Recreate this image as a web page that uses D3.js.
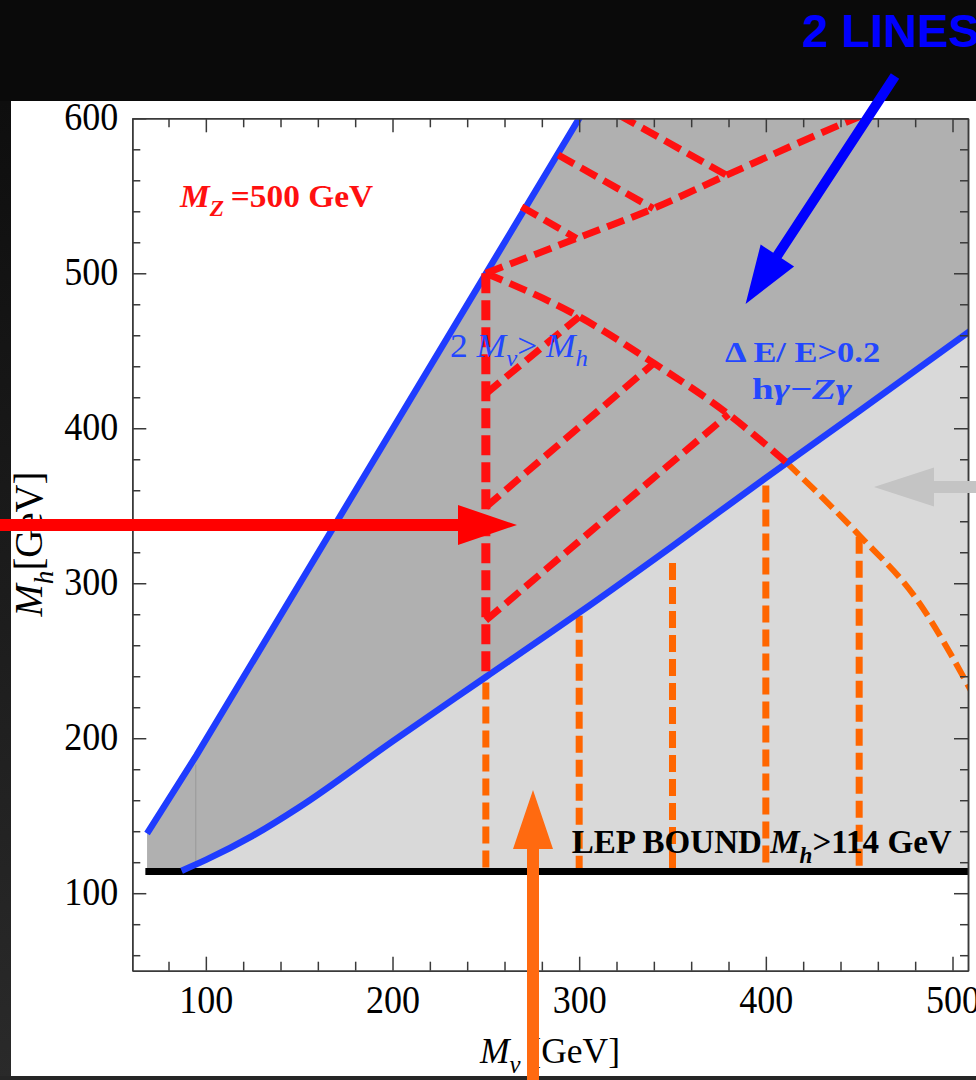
<!DOCTYPE html>
<html lang="en">
<head>
<meta charset="UTF-8">
<title>Mh vs Mnu plane</title>
<script src="https://d3js.org/d3.v7.min.js"></script>
<style>
  body { margin: 0; background: #0a0a0a; }
  svg { display: block; }
  .axis path, .axis line { stroke: #3a3a3a; stroke-width: 1.5px; }
  .axis text { font-family: "Liberation Serif", "Times New Roman", serif; font-size: 40px; fill: #000; }
</style>
</head>
<body>
<div id="chart"></div>
<script>
// ---- data (GeV) ----
const xMajor = [100, 200, 300, 400, 500];
const yMajor = [100, 200, 300, 400, 500, 600];
const lepBound = 114;

// blue boundary 2 M_nu > M_h
const upperBoundary = [[68.5, 138.5], [95, 189], [303, 606]];
// blue boundary  dE/E > 0.2
const lowerBoundary = [[87, 114.5], [100, 121.5], [125, 137], [150, 155.5], [200, 198], [250, 239.5],
                       [300, 281], [350, 324], [400, 368], [450, 411], [512, 465]];

// red dashed contours
const redVertical = [[250, 500], [250, 240]];
const redFallCurve = [[250, 500], [300, 472], [340, 442], [380, 409], [411, 378]];
const orangeFallCurve = [[411, 378], [450, 331], [480, 291], [512, 226]];
const redRiseLine = [[250, 500], [298.6, 522.5], [339.7, 541.8], [379, 563.3], [450, 601], [456, 604]];
const redCrossLines = [
  [[269.2, 542.9], [298.6, 522.5]],
  [[288.8, 576.3], [339.7, 541.8]],
  [[321.5, 602], [379, 563.3]]
];
const redDiagLines = [
  [[250, 422.3], [300, 472]],
  [[250, 349.2], [340, 442]],
  [[250, 276], [380, 409]]
];
// orange dashed verticals: position and top end
const orangeX = [250, 300, 350, 400, 450];
const orangeTop = [236, 279, 313, 363, 330];

const W = 976, H = 1080;
const x = d3.scaleLinear().domain([60.6, 508.3]).range([132.3, 968]);
const y = d3.scaleLinear().domain([50, 600]).range([970.7, 118.3]);

const svg = d3.select("#chart").append("svg").attr("width", W).attr("height", H);

// background / frame of the screenshot
const defs = svg.append("defs");
const grad = defs.append("linearGradient").attr("id", "stripGrad")
  .attr("x1", 0).attr("x2", 0).attr("y1", 0).attr("y2", 1);
grad.append("stop").attr("offset", "0%").attr("stop-color", "#0e0e0e");
grad.append("stop").attr("offset", "100%").attr("stop-color", "#2a2a2a");
defs.append("clipPath").attr("id", "plotClip").append("rect")
  .attr("x", x.range()[0]).attr("y", y.range()[1])
  .attr("width", x.range()[1] - x.range()[0]).attr("height", y.range()[0] - y.range()[1]);

svg.append("rect").attr("width", W).attr("height", H).attr("fill", "#0a0a0a");
svg.append("rect").attr("x", 0).attr("y", 101).attr("width", 11).attr("height", H - 101).attr("fill", "url(#stripGrad)");
svg.append("rect").attr("x", 0).attr("y", 1076).attr("width", W).attr("height", 4).attr("fill", "#262626");
svg.append("rect").attr("x", 11).attr("y", 101).attr("width", W - 11).attr("height", 975).attr("fill", "#fff");

const plot = svg.append("g").attr("clip-path", "url(#plotClip)");
const line = d3.line().x(d => x(d[0])).y(d => y(d[1]));
const smooth = d3.line().x(d => x(d[0])).y(d => y(d[1])).curve(d3.curveMonotoneX);

// dark region between the two blue boundaries
const dark = [[68.5, lepBound], ...upperBoundary, [512, 606], [512, lepBound]];
plot.append("path").attr("d", line(dark) + "Z").attr("fill", "#b0b0b0");
// light region below the lower boundary
plot.append("path")
  .attr("d", d3.area().x(d => x(d[0])).y0(y(lepBound)).y1(d => y(d[1])).curve(d3.curveMonotoneX)(lowerBoundary))
  .attr("fill", "#d9d9d9");
// faint mesh line
plot.append("path").attr("d", line([[94.6, 183], [94.6, 118]]))
  .attr("stroke", "#8c8c8c").attr("stroke-width", 1).attr("opacity", 0.6);

// orange verticals
orangeX.forEach((v, i) => {
  plot.append("path").attr("d", line([[v, orangeTop[i]], [v, lepBound]]))
    .attr("fill", "none").attr("stroke", "#ff6600").attr("stroke-width", 7)
    .attr("stroke-dasharray", "17,7");
});
plot.append("path").attr("d", smooth(orangeFallCurve))
  .attr("fill", "none").attr("stroke", "#ff6600").attr("stroke-width", 6)
  .attr("stroke-dasharray", "17,7");

// LEP bound
plot.append("path").attr("d", line([[67.6, lepBound], [512, lepBound]]))
  .attr("stroke", "#000").attr("stroke-width", 7);

// blue boundaries
plot.append("path").attr("d", line(upperBoundary))
  .attr("fill", "none").attr("stroke", "#1f3cff").attr("stroke-width", 6.5);
plot.append("path").attr("d", smooth(lowerBoundary))
  .attr("fill", "none").attr("stroke", "#1f3cff").attr("stroke-width", 6.5);

// red dashed contours
const red = "#ff1010";
plot.append("path").attr("d", line(redVertical))
  .attr("fill", "none").attr("stroke", red).attr("stroke-width", 9).attr("stroke-dasharray", "20,7");
[redFallCurve, redRiseLine].forEach(c => {
  plot.append("path").attr("d", smooth(c))
    .attr("fill", "none").attr("stroke", red).attr("stroke-width", 7).attr("stroke-dasharray", "18,8");
});
redCrossLines.concat(redDiagLines).forEach(c => {
  plot.append("path").attr("d", line(c))
    .attr("fill", "none").attr("stroke", red).attr("stroke-width", 7).attr("stroke-dasharray", "18,8");
});

// rich text helper (italic / subscript parts)
function richText(g, parts, o) {
  const t = g.append("text").attr("x", o.x).attr("y", o.y)
    .attr("font-family", "'Liberation Serif', 'Times New Roman', serif")
    .attr("font-size", o.size).attr("fill", o.color || "#000")
    .attr("font-weight", o.weight || "normal")
    .attr("text-anchor", o.anchor || "start");
  if (o.transform) t.attr("transform", o.transform);
  let shift = 0;
  parts.forEach(p => {
    const s = t.append("tspan").text(p.t);
    const want = p.sub ? o.size * 0.28 : 0;
    if (want !== shift) { s.attr("dy", want - shift); shift = want; }
    if (p.i) s.attr("font-style", "italic");
    if (p.sub) s.attr("font-size", o.size * 0.7);
  });
  if (o.len) t.attr("textLength", o.len).attr("lengthAdjust", "spacingAndGlyphs");
  return t;
}

const labels = svg.append("g");
richText(labels, [{ t: "M", i: 1 }, { t: "Z", i: 1, sub: 1 }, { t: "\u2009=500 GeV" }],
  { x: x(86.2), y: y(543), size: 32, weight: "bold", color: "#ff1010", len: 193 });
richText(labels, [{ t: "2 " }, { t: "M", i: 1 }, { t: "\u03bd", i: 1, sub: 1 }, { t: "> " }, { t: "M", i: 1 }, { t: "h", i: 1, sub: 1 }],
  { x: x(230.8), y: y(446.2), size: 33, color: "#2347ff", len: 138 });
richText(labels, [{ t: "\u0394 E/ E>0.2" }],
  { x: x(419.7), y: y(443), size: 30, weight: "bold", color: "#2347ff", anchor: "middle", len: 155 });
richText(labels, [{ t: "h" }, { t: "\u03b3", i: 1 }, { t: "\u2212" }, { t: "Z", i: 1 }, { t: "\u03b3", i: 1 }],
  { x: x(419.4), y: y(419.2), size: 30, weight: "bold", color: "#2347ff", anchor: "middle", len: 100 });
richText(labels, [{ t: "LEP BOUND " }, { t: "M", i: 1 }, { t: "h", i: 1, sub: 1 }, { t: ">114 GeV" }],
  { x: x(296), y: y(125.75), size: 34, weight: "bold", len: 380 });

// axes, ticks inward on all four sides
const ax = svg.append("g").attr("class", "axis");
const xMinor = d3.range(80, 501, 20).filter(v => v % 100 !== 0);
const yMinor = d3.range(60, 600, 20).filter(v => v % 100 !== 0);
const noLab = () => "";
ax.append("g").attr("transform", `translate(0,${y(50)})`)
  .call(d3.axisBottom(x).tickValues(xMinor).tickSize(-9).tickSizeOuter(0).tickFormat(noLab));
ax.append("g").attr("transform", `translate(0,${y(50)})`)
  .call(d3.axisBottom(x).tickValues(xMajor).tickSize(-14).tickSizeOuter(0).tickPadding(13.6).tickFormat(d3.format("d")))
  .selectAll("text").attr("textLength", 54).attr("lengthAdjust", "spacingAndGlyphs");
ax.append("g").attr("transform", `translate(0,${y(600)})`)
  .call(d3.axisTop(x).tickValues(xMinor).tickSize(-9).tickSizeOuter(0).tickFormat(noLab));
ax.append("g").attr("transform", `translate(0,${y(600)})`)
  .call(d3.axisTop(x).tickValues(xMajor).tickSize(-14).tickSizeOuter(0).tickFormat(noLab));
ax.append("g").attr("transform", `translate(${x(60.6)},0)`)
  .call(d3.axisLeft(y).tickValues(yMinor).tickSize(-8).tickSizeOuter(0).tickFormat(noLab));
ax.append("g").attr("transform", `translate(${x(60.6)},0)`)
  .call(d3.axisLeft(y).tickValues(yMajor).tickSize(-14).tickSizeOuter(0).tickPadding(14).tickFormat(d3.format("d")))
  .selectAll("text").attr("textLength", 54).attr("lengthAdjust", "spacingAndGlyphs").attr("dy", "0.29em");
ax.append("g").attr("transform", `translate(${x(508.3)},0)`)
  .call(d3.axisRight(y).tickValues(yMinor).tickSize(-8).tickSizeOuter(0).tickFormat(noLab));
ax.append("g").attr("transform", `translate(${x(508.3)},0)`)
  .call(d3.axisRight(y).tickValues(yMajor).tickSize(-14).tickSizeOuter(0).tickFormat(noLab));

// axis titles
richText(labels, [{ t: "M", i: 1 }, { t: "\u03bd", i: 1, sub: 1 }, { t: " [GeV]" }],
  { x: 480, y: 1063, size: 35, len: 140 });
richText(labels, [{ t: "M", i: 1 }, { t: "h", i: 1, sub: 1 }, { t: "[GeV]" }],
  { x: 0, y: 0, size: 40, len: 145, anchor: "middle", transform: "translate(42,544) rotate(-90)" });

// overlay annotations drawn on the screenshot
function arrow(x0, y0, x1, y1, shaft, headW, headL) {
  const dx = x1 - x0, dy = y1 - y0, L = Math.hypot(dx, dy);
  const ux = dx / L, uy = dy / L, nx = -uy, ny = ux;
  const bx = x1 - ux * headL, by = y1 - uy * headL;
  const s = shaft / 2, h = headW / 2;
  return [[x0 + nx * s, y0 + ny * s], [bx + nx * s, by + ny * s], [bx + nx * h, by + ny * h], [x1, y1],
          [bx - nx * h, by - ny * h], [bx - nx * s, by - ny * s], [x0 - nx * s, y0 - ny * s]]
    .map(p => p.join(",")).join(" ");
}
const notes = svg.append("g");
notes.append("polygon").attr("points", arrow(895, 76, 745.6, 304, 10, 40, 58)).attr("fill", "#0000ff");
notes.append("polygon").attr("points", arrow(-5, 525, 517, 525, 12, 40, 59)).attr("fill", "#ff0000");
notes.append("polygon").attr("points", arrow(985, 487, 874, 487, 12, 39, 60)).attr("fill", "#c4c4c4");
notes.append("polygon").attr("points", arrow(533, 1090, 533, 790, 12, 40, 59)).attr("fill", "#ff6a10");
notes.append("text").attr("x", 802).attr("y", 46.7)
  .attr("font-family", "'Liberation Sans', Arial, sans-serif").attr("font-weight", "bold")
  .attr("font-size", 47).attr("fill", "#0000ff").text("2 LINES");
</script>
</body>
</html>
